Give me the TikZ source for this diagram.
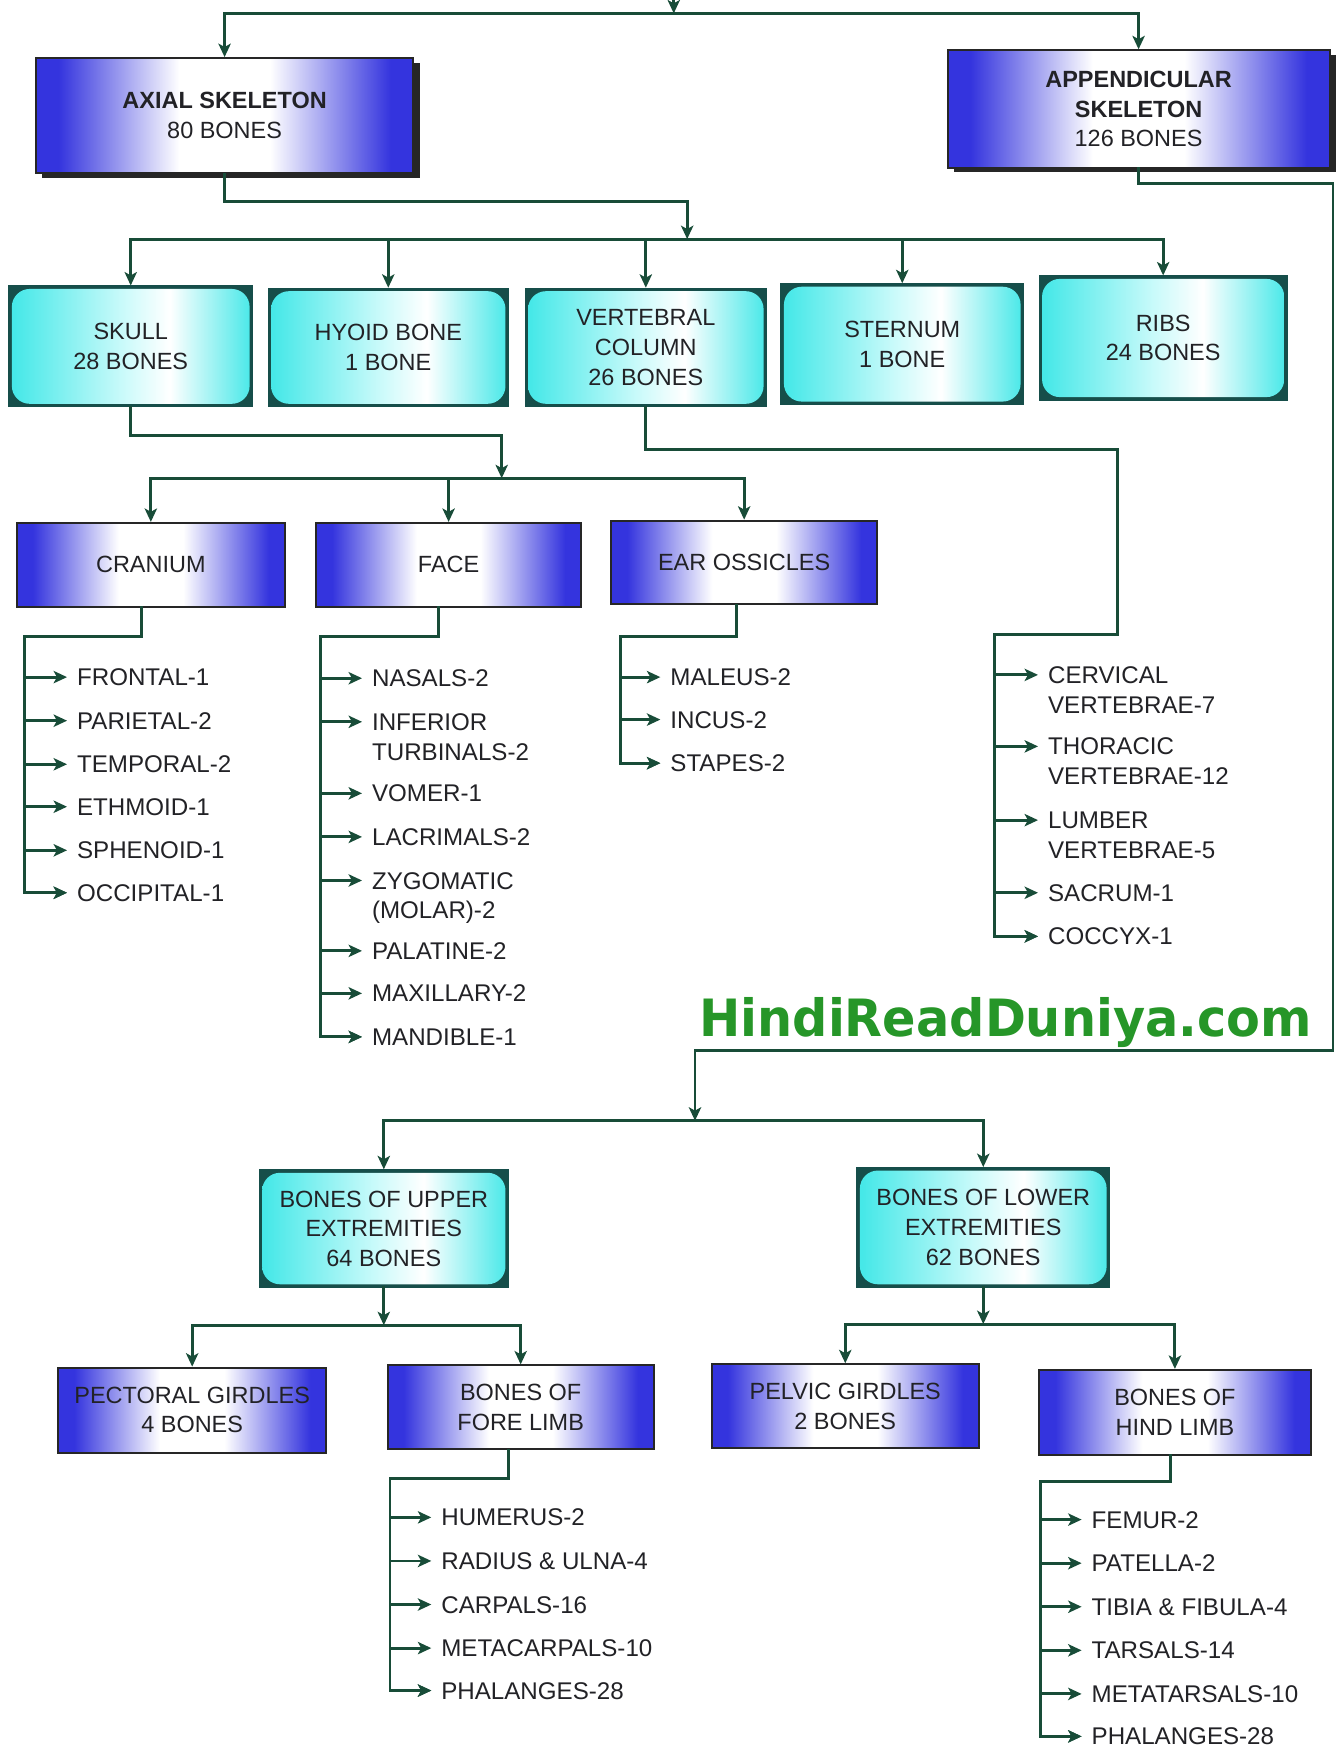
\documentclass[tikz,border=0pt]{standalone}
\usepackage{fontspec}
\setmainfont{Liberation Sans}
\newfontfamily\wmfont{DejaVu Sans}
\usetikzlibrary{arrows.meta,shadows}
\definecolor{lnc}{RGB}{24,76,56}
\definecolor{bb}{RGB}{52,52,222}
\definecolor{cy}{RGB}{70,232,232}
\definecolor{cyl}{RGB}{200,250,250}
\definecolor{tl}{RGB}{22,78,74}
\definecolor{tx}{RGB}{34,34,38}
\definecolor{wm}{RGB}{38,150,40}
\pgfdeclarehorizontalshading{bluesh}{100bp}{color(0bp)=(bb); color(28bp)=(bb); color(44bp)=(white); color(56bp)=(white); color(72bp)=(bb); color(100bp)=(bb)}
\pgfdeclarehorizontalshading{cyansh}{100bp}{color(0bp)=(cy); color(26bp)=(cy); color(48bp)=(cyl); color(58bp)=(white); color(75bp)=(cy); color(100bp)=(cy)}
\newcommand\twol[2]{\vtop{\hbox{#1}\hbox{#2}}}
\tikzset{
  ln/.style={draw=lnc, line width=1.3pt, line cap=rect},
  arr/.style={ln, -{Stealth[length=6pt,width=5.5pt,inset=1.5pt]}},
  bluebox/.style={draw=black!85, line width=0.9pt, shading=bluesh, text=tx, align=center,
    font=\fontsize{10.5}{13.25}\selectfont, inner sep=1pt},
  bigbox/.style={bluebox, drop shadow={shadow xshift=3pt, shadow yshift=-2pt, opacity=1, fill=black!85}},
  cybox/.style={fill=tl, draw=tl, line width=0.5pt, text=tx, align=center,
    font=\fontsize{10.5}{13.25}\selectfont, inner sep=1pt,
    path picture={\shade[shading=cyansh, rounded corners=8pt]
      ([shift={(1.3pt,1.3pt)}]path picture bounding box.south west) rectangle
      ([shift={(-1.3pt,-1.3pt)}]path picture bounding box.north east);}},
  item/.style={anchor=base west, inner xsep=4.5pt, inner ysep=0pt, outer sep=0pt, text=tx,
    font=\fontsize{10.8}{13.25}\selectfont},
}
\newcommand\bitem[5]{%
  \node[item] (#1) at (#2-9,#3+7.7) {#4};
  \coordinate (#1a) at ([yshift=3.85pt]#1.base west);
  \draw[arr] (#5 |- #1a) -- (#1a);}
\begin{document}
\begin{tikzpicture}[x=0.5pt,y=-0.5pt]
\fill[white] (0,0) rectangle (1197,1568);
\useasboundingbox (0,0) rectangle (1197,1568);

% ---- boxes ----
\node[bigbox, minimum width=169pt, minimum height=51.5pt] (axial) at (201,103.5) {\textbf{AXIAL SKELETON}\\80 BONES};
\node[bigbox, minimum width=171pt, minimum height=52.5pt] (app) at (1019,97.5) {\textbf{APPENDICULAR}\\\textbf{SKELETON}\\126 BONES};

\node[cybox, minimum width=109pt, minimum height=54pt] (skull) at (117,310) {SKULL\\28 BONES};
\node[cybox, minimum width=107.5pt, minimum height=53pt] (hyoid) at (347.5,311) {HYOID BONE\\1 BONE};
\node[cybox, minimum width=108pt, minimum height=53pt] (vert) at (578,311) {VERTEBRAL\\COLUMN\\26 BONES};
\node[cybox, minimum width=108.5pt, minimum height=54pt] (stern) at (807.5,308) {STERNUM\\1 BONE};
\node[cybox, minimum width=111pt, minimum height=55.5pt] (ribs) at (1041,302.5) {RIBS\\24 BONES};

\node[bluebox, minimum width=120pt, minimum height=37.5pt] (cran) at (135,505.5) {CRANIUM};
\node[bluebox, minimum width=118.5pt, minimum height=37.5pt] (face) at (401.5,505.5) {FACE};
\node[bluebox, minimum width=119pt, minimum height=37.5pt] (ear) at (666,503.5) {EAR OSSICLES};

\node[cybox, minimum width=111.5pt, minimum height=52.5pt] (upper) at (343.5,1099.5) {BONES OF UPPER\\EXTREMITIES\\64 BONES};
\node[cybox, minimum width=113pt, minimum height=53.5pt] (lower) at (880,1098.5) {BONES OF LOWER\\EXTREMITIES\\62 BONES};

\node[bluebox, minimum width=120pt, minimum height=38pt] (pect) at (172,1262) {PECTORAL GIRDLES\\4 BONES};
\node[bluebox, minimum width=119pt, minimum height=37.5pt] (fore) at (466,1259.5) {BONES OF\\FORE LIMB};
\node[bluebox, minimum width=119.5pt, minimum height=37.5pt] (pelv) at (756.5,1258.5) {PELVIC GIRDLES\\2 BONES};
\node[bluebox, minimum width=121.5pt, minimum height=38pt] (hind) at (1051.5,1264) {BONES OF\\HIND LIMB};

% ---- watermark ----
\node[anchor=base, text=wm, inner sep=0pt, font=\wmfont\bfseries\fontsize{23}{23}\selectfont] (wm) at (900,928) {\scalebox{0.96}[1]{HindiReadDuniya.com}};

% ---- main connectors ----
\coordinate (top) at (603,0);
\coordinate (topJ) at (603,12);
\draw[arr] (top) -- (topJ);
\draw[arr] (topJ) -| (axial.north);
\draw[arr] (topJ) -| (app.north);

\coordinate (axJ) at (615,180);
\coordinate (l2J) at (615,214);
\draw[arr] (axial.south) |- (axJ) -- (l2J);
\draw[ln] (skull.north |- l2J) -- (ribs.north |- l2J);
\foreach \n in {skull,hyoid,vert,stern,ribs} \draw[arr] (\n.north |- l2J) -- (\n.north);

\coordinate (skJ) at (449,390);
\coordinate (l3J) at (449,428);
\draw[arr] (skull.south) |- (skJ) -- (l3J);
\draw[ln] (cran.north |- l3J) -- (ear.north |- l3J);
\foreach \n in {cran,face,ear} \draw[arr] (\n.north |- l3J) -- (\n.north);

\coordinate (apA) at (1193,164);
\coordinate (apB) at (1193,940);
\coordinate (apC) at (622,940);
\coordinate (l4J) at (622,1003);
\draw[arr] (app.south) |- (apA) -- (apB) -- (apC) -- (l4J);
\draw[ln] (upper.north |- l4J) -- (lower.north |- l4J);
\foreach \n in {upper,lower} \draw[arr] (\n.north |- l4J) -- (\n.north);

\coordinate (uJ) at (343.5,1186);
\draw[arr] (upper.south) -- (uJ);
\draw[ln] (pect.north |- uJ) -- (fore.north |- uJ);
\foreach \n in {pect,fore} \draw[arr] (\n.north |- uJ) -- (\n.north);

\coordinate (lJ) at (880,1185);
\draw[arr] (lower.south) -- (lJ);
\draw[ln] (pelv.north |- lJ) -- (hind.north |- lJ);
\foreach \n in {pelv,hind} \draw[arr] (\n.north |- lJ) -- (\n.north);

% ---- lists ----
\coordinate (crT) at (22,570);
\bitem{cr1}{69}{606}{FRONTAL-1}{crT}
\bitem{cr2}{69}{645}{PARIETAL-2}{crT}
\bitem{cr3}{69}{684}{TEMPORAL-2}{crT}
\bitem{cr4}{69}{722}{ETHMOID-1}{crT}
\bitem{cr5}{69}{761}{SPHENOID-1}{crT}
\bitem{cr6}{69}{799}{OCCIPITAL-1}{crT}
\draw[arr] ([xshift=-4pt]cran.south) |- (crT) |- (cr6a);

\coordinate (faT) at (287,570);
\bitem{fa1}{333}{607}{NASALS-2}{faT}
\bitem{fa2}{333}{646}{\twol{INFERIOR}{TURBINALS-2}}{faT}
\bitem{fa3}{333}{710}{VOMER-1}{faT}
\bitem{fa4}{333}{749}{LACRIMALS-2}{faT}
\bitem{fa5}{333}{788}{\twol{ZYGOMATIC}{(MOLAR)-2}}{faT}
\bitem{fa6}{333}{851}{PALATINE-2}{faT}
\bitem{fa7}{333}{889}{MAXILLARY-2}{faT}
\bitem{fa8}{333}{928}{MANDIBLE-1}{faT}
\draw[arr] ([xshift=-4.5pt]face.south) |- (faT) |- (fa8a);

\coordinate (eaT) at (555,570);
\bitem{ea1}{600}{606}{MALEUS-2}{eaT}
\bitem{ea2}{600}{644}{INCUS-2}{eaT}
\bitem{ea3}{600}{683}{STAPES-2}{eaT}
\draw[arr] ([xshift=-3.5pt]ear.south) |- (eaT) |- (ea3a);

\coordinate (vA) at (1000,402);
\coordinate (vB) at (1000,568);
\coordinate (vT) at (890,568);
\bitem{v1}{938}{604}{\twol{CERVICAL}{VERTEBRAE-7}}{vT}
\bitem{v2}{938}{668}{\twol{THORACIC}{VERTEBRAE-12}}{vT}
\bitem{v3}{938}{734}{\twol{LUMBER}{VERTEBRAE-5}}{vT}
\bitem{v4}{938}{799}{SACRUM-1}{vT}
\bitem{v5}{938}{838}{COCCYX-1}{vT}
\draw[arr] (vert.south) |- (vA) -- (vB) -- (vT) |- (v5a);

\coordinate (fT) at (349,1323);
\bitem{f1}{395}{1358}{HUMERUS-2}{fT}
\bitem{f2}{395}{1397}{RADIUS \& ULNA-4}{fT}
\bitem{f3}{395}{1436}{CARPALS-16}{fT}
\bitem{f4}{395}{1475}{METACARPALS-10}{fT}
\bitem{f5}{395}{1513}{PHALANGES-28}{fT}
\draw[arr] ([xshift=-5.5pt]fore.south) |- (fT) |- (f5a);

\coordinate (hT) at (931,1326);
\bitem{h1}{977}{1360}{FEMUR-2}{hT}
\bitem{h2}{977}{1399}{PATELLA-2}{hT}
\bitem{h3}{977}{1438}{TIBIA \& FIBULA-4}{hT}
\bitem{h4}{977}{1477}{TARSALS-14}{hT}
\bitem{h5}{977}{1516}{METATARSALS-10}{hT}
\bitem{h6}{977}{1554}{PHALANGES-28}{hT}
\draw[arr] ([xshift=-2pt]hind.south) |- (hT) |- (h6a);
\end{tikzpicture}
\end{document}
